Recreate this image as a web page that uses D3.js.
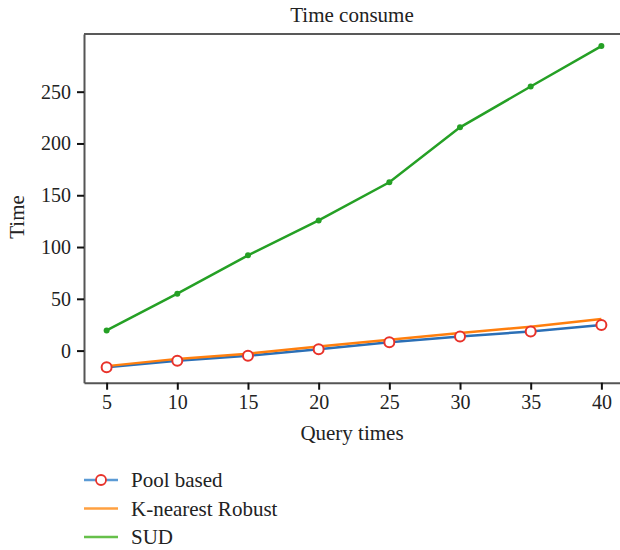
<!DOCTYPE html>
<html>
<head>
<meta charset="utf-8">
<script src="https://cdn.jsdelivr.net/npm/d3@7"></script>
<style>
  body { margin: 0; background: #fff; }
  text { font-family: "Liberation Serif", "DejaVu Serif", serif; fill: #222; }
</style>
</head>
<body>
<svg id="chart" width="620" height="550"></svg>
<script>
// data
var queryTimes = [5, 10, 15, 20, 25, 30, 35, 40];
var poolBased = [-16, -9.7, -5, 1.3, 8, 13.5, 18.5, 24.8];
var kNearest = [-15, -8, -3, 4, 10.5, 17, 23, 30.4];
var sud = [19.5, 55, 92, 125.7, 162.5, 215.6, 255, 294];
var xTicks = [5, 10, 15, 20, 25, 30, 35, 40];
var yTicks = [0, 50, 100, 150, 200, 250];
var seriesNames = ["Pool based", "K-nearest Robust", "SUD"];

var svg = d3.select('#chart');

var plotLeft = 84, plotRight = 624, plotTop = 34, plotBottom = 382.7;

var x = d3.scaleLinear().domain([3.4, 41.6]).range([plotLeft, plotRight]);
var y = d3.scaleLinear().domain([-31, 305.7]).range([plotBottom, plotTop]);

// frame: top border, left and bottom axes
svg.append("line")
    .attr("x1", plotLeft).attr("x2", plotRight)
    .attr("y1", plotTop).attr("y2", plotTop)
    .attr("stroke", "#222").attr("stroke-width", 1.5);

var xAxis = svg.append("g")
    .attr("transform", "translate(0," + plotBottom + ")")
    .call(d3.axisBottom(x).tickValues(xTicks).tickSize(7).tickSizeOuter(0).tickPadding(5));
var yAxis = svg.append("g")
    .attr("transform", "translate(" + plotLeft + ",0)")
    .call(d3.axisLeft(y).tickValues(yTicks).tickSize(7).tickSizeOuter(0).tickPadding(6));

[xAxis, yAxis].forEach(function(g) {
    g.select(".domain").attr("stroke", "#555").attr("stroke-width", 2);
    g.selectAll(".tick line").attr("stroke", "#111").attr("stroke-width", 2);
    g.selectAll(".tick text")
        .attr("font-family", "Liberation Serif, serif")
        .attr("font-size", 20)
        .attr("fill", "#222");
});

// titles
svg.append("text")
    .attr("x", 352).attr("y", 22)
    .attr("text-anchor", "middle")
    .attr("font-size", 21)
    .text("Time consume");
svg.append("text")
    .attr("x", 352).attr("y", 440)
    .attr("text-anchor", "middle")
    .attr("font-size", 21)
    .text("Query times");
svg.append("text")
    .attr("transform", "translate(24,217) rotate(-90)")
    .attr("text-anchor", "middle")
    .attr("font-size", 21)
    .text("Time");

var line = d3.line()
    .x(function(d) { return x(d[0]); })
    .y(function(d) { return y(d[1]); });

function pairs(vals) {
    return queryTimes.map(function(q, i) { return [q, vals[i]]; });
}

// series lines
svg.append("path").datum(pairs(poolBased))
    .attr("d", line).attr("fill", "none")
    .attr("stroke", "#2b6fb6").attr("stroke-width", 2.5);
svg.append("path").datum(pairs(kNearest))
    .attr("d", line).attr("fill", "none")
    .attr("stroke", "#ff7f0e").attr("stroke-width", 2.5);
svg.append("path").datum(pairs(sud))
    .attr("d", line).attr("fill", "none")
    .attr("stroke", "#25a025").attr("stroke-width", 2.5);

// markers
svg.selectAll(".sudDot")
    .data(pairs(sud))
    .enter().append("circle")
        .attr("cx", function(d) { return x(d[0]); })
        .attr("cy", function(d) { return y(d[1]); })
        .attr("r", 3)
        .attr("fill", "#25a025");
svg.selectAll(".poolDot")
    .data(pairs(poolBased))
    .enter().append("circle")
        .attr("cx", function(d) { return x(d[0]); })
        .attr("cy", function(d) { return y(d[1]); })
        .attr("r", 5)
        .attr("fill", "#fff")
        .attr("stroke", "#e8322a")
        .attr("stroke-width", 2);

// legend
var legendColors = ["#5b9bd5", "#ffa040", "#66c04a"];
var legend = svg.selectAll(".legendRow")
    .data(seriesNames)
    .enter().append("g")
        .attr("transform", function(d, i) { return "translate(84," + (480 + i * 28.5) + ")"; });
legend.append("line")
    .attr("x1", 0).attr("x2", 34)
    .attr("stroke", function(d, i) { return legendColors[i]; })
    .attr("stroke-width", 2.5);
legend.filter(function(d, i) { return i == 0; })
    .append("circle")
        .attr("cx", 17).attr("r", 5)
        .attr("fill", "#fff")
        .attr("stroke", "#e8322a")
        .attr("stroke-width", 1.8);
legend.append("text")
    .attr("x", 47).attr("y", 7)
    .attr("font-size", 21)
    .text(function(d) { return d; });
</script>
</body>
</html>
